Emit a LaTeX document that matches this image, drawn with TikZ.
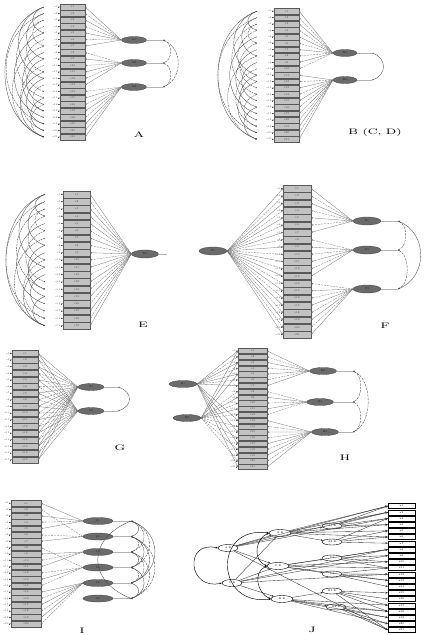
\documentclass[tikz,border=0pt]{standalone}
\usetikzlibrary{shapes.geometric,arrows.meta,positioning}
\tikzset{
  itembox/.style={draw=black!65, fill=black!24, line width=0.3pt, inner sep=0pt, font=\fontsize{2.6}{3}\selectfont, text=black!75},
  errlab/.style={inner sep=0.2pt, font=\fontsize{2.4}{3}\selectfont, text=black!70},
  errarr/.style={draw=black!70, line width=0.25pt, -{Stealth[length=1.5pt,width=1.3pt]}},
  lat/.style={ellipse, draw=black!75, fill=black!58, line width=0.3pt, inner sep=0pt, font=\fontsize{2.6}{3}\selectfont, text=black!90},
  ld1/.style={draw=black!55, line width=0.3pt, -{Stealth[length=1.9pt,width=1.5pt]}},
  ld0/.style={ld1, dash pattern=on 2pt off 1pt},
  cov/.style={draw=black!70, line width=0.35pt, {Stealth[length=1.7pt,width=1.4pt]}-{Stealth[length=1.7pt,width=1.4pt]}},
  covd/.style={cov, dash pattern=on 2.5pt off 1pt},
  ecov/.style={draw=black!75, line width=0.3pt, -{Stealth[length=1.5pt,width=1.3pt]}},
  ecovd/.style={ecov, dash pattern=on 2pt off 0.8pt},
  stub/.style={draw=black!30, line width=0.25pt},
  panlab/.style={font=\fontsize{8}{9}\selectfont, inner sep=0pt},
  jlat/.style={ellipse, draw=black, fill=white, line width=0.4pt, inner sep=0pt, font=\fontsize{2.6}{3}\selectfont},
  jbox/.style={draw=black, fill=white, line width=0.4pt, inner sep=0pt, font=\fontsize{2.6}{3}\selectfont},
  jl/.style={draw=black!80, line width=0.35pt, -{Stealth[length=2.4pt,width=2pt]}},
  jcov/.style={draw=black, line width=0.45pt, {Stealth[length=2.2pt,width=1.8pt]}-{Stealth[length=2.2pt,width=1.8pt]}},
}
% item column: prefix, N, x centre, first y, spacing, width, x of error-arc ends
\newcommand{\itemcol}[7]{%
  \foreach \i in {1,...,#2}{%
    \pgfmathsetmacro{\yy}{#4+(\i-1)*#5}%
    \pgfmathsetmacro{\hh}{#5-0.6}%
    \node[itembox, minimum width=#6pt, minimum height=\hh pt] (#1\i) at (#3,\yy) {v\i};
    \node[errlab, left=2pt of #1\i] (#1e\i) {e\i};
    \draw[errarr] (#1e\i) -- (#1\i);
    \coordinate (#1c\i) at (#7,\yy);
  }}
% loadings: latent anchor, item prefix, list, item anchor
\newcommand{\loads}[4]{%
  \foreach \i in {#3}{%
    \ifodd\i\relax\def\st{ld1}\else\def\st{ld0}\fi
    \draw[\st] (#1) -- (#2\i.#4);
  }}
% error covariances on the left: prefix, spacing, list p/q/style
\newcommand{\errarcs}[3]{%
  \foreach \p/\q/\sty in {#3}{%
    \pgfmathsetmacro{\kk}{min(0.42*(\q-\p)*#2+4,52)}%
    \pgfmathsetmacro{\kv}{0.35*\kk}%
    \draw[\sty] (#1c\p) .. controls +(-\kk,\kv) and +(-\kk,-\kv) .. (#1c\q);
  }}
\begin{document}
\begin{tikzpicture}[x=1pt,y=-1pt]
\useasboundingbox (0,0) rectangle (425,635);

% ================= A =================
\itemcol{a}{21}{72.5}{7}{6.5}{25}{44}
\errarcs{a}{6.5}{1/21/ecov, 2/19/ecovd, 1/12/ecov, 3/15/ecovd, 5/18/ecov, 7/21/ecovd, 2/9/ecov, 4/11/ecovd, 9/16/ecov, 10/20/ecovd, 12/19/ecov, 6/14/ecovd, 8/17/ecov, 11/21/ecov, 3/7/ecovd, 13/17/ecovd, 15/20/ecov, 1/5/ecov, 16/21/ecovd}
\node[lat, minimum width=25pt, minimum height=7pt] (aL1) at (134,40) {A1};
\node[lat, minimum width=25pt, minimum height=7pt] (aL2) at (134,63) {A2};
\node[lat, minimum width=25pt, minimum height=7pt] (aL3) at (134,87) {A3};
\loads{aL1.west}{a}{1,...,7}{east}
\loads{aL2.west}{a}{8,...,13}{east}
\loads{aL3.west}{a}{14,...,21}{east}
\coordinate (aR1) at (163,40); \coordinate (aR2) at (163,63); \coordinate (aR3) at (163,87);
\draw[stub] (aL1) -- (aR1); \draw[stub] (aL2) -- (aR2); \draw[stub] (aL3) -- (aR3);
\draw[covd] (aR1) .. controls +(10,3) and +(10,-3) .. (aR2);
\draw[covd] (aR2) .. controls +(10,3) and +(10,-3) .. (aR3);
\draw[covd] (aR1) .. controls +(20,8) and +(20,-8) .. (aR3);
\node[panlab] (labA) at (139,135) {\scalebox{1.6}[1]{A}};

% ================= B =================
\itemcol{b}{21}{286.5}{11.2}{6.4}{25}{257}
\errarcs{b}{6.4}{1/21/ecov, 2/20/ecovd, 1/11/ecov, 3/14/ecovd, 5/17/ecov, 8/21/ecovd, 2/8/ecov, 4/12/ecovd, 9/15/ecov, 10/19/ecovd, 12/20/ecov, 6/13/ecovd, 7/16/ecov, 11/18/ecov, 3/6/ecovd, 14/19/ecovd, 16/21/ecov, 1/4/ecov}
\node[lat, minimum width=24pt, minimum height=7pt] (bL1) at (345,53) {B1};
\node[lat, minimum width=24pt, minimum height=7pt] (bL2) at (345,80) {B2};
\loads{bL1.west}{b}{1,...,10}{east}
\loads{bL2.west}{b}{11,...,21}{east}
\coordinate (bR1) at (372,53); \coordinate (bR2) at (372,80);
\draw[stub] (bL1) -- (bR1); \draw[stub] (bL2) -- (bR2);
\draw[cov] (bR1) .. controls +(15,5) and +(15,-5) .. (bR2);
\node[panlab] (labB) at (375,132) {\scalebox{1.6}[1]{B (C, D)}};

% ================= E =================
\itemcol{e}{19}{76.5}{194.3}{7.3}{27}{45}
\errarcs{e}{7.3}{1/19/ecov, 2/18/ecovd, 1/11/ecov, 3/14/ecovd, 5/16/ecov, 7/19/ecovd, 2/8/ecov, 4/10/ecovd, 9/15/ecov, 10/18/ecovd, 12/17/ecov, 6/13/ecovd, 8/14/ecov, 11/19/ecov, 3/6/ecovd, 15/19/ecov, 1/4/ecov}
\node[lat, minimum width=27pt, minimum height=8pt] (eL1) at (145,254) {E1};
\loads{eL1.west}{e}{1,...,19}{east}
\coordinate (eR) at (167,254);
\draw[stub] (eL1) -- (eR);
\node[panlab] (labE) at (143,325) {\scalebox{1.6}[1]{E}};

% ================= F =================
\itemcol{f}{21}{297}{188.6}{7.3}{28}{270}
\node[lat, minimum width=28pt, minimum height=8pt] (fL0) at (213,251) {F0};
\node[lat, minimum width=28pt, minimum height=8pt] (fL1) at (367,221) {F1};
\node[lat, minimum width=28pt, minimum height=8pt] (fL2) at (367,250) {F2};
\node[lat, minimum width=28pt, minimum height=8pt] (fL3) at (367,289) {F3};
\loads{fL0.east}{f}{1,...,21}{west}
\loads{fL1.west}{f}{1,...,7}{east}
\loads{fL2.west}{f}{8,...,13}{east}
\loads{fL3.west}{f}{14,...,21}{east}
\coordinate (fR1) at (398,221); \coordinate (fR2) at (398,250); \coordinate (fR3) at (398,289);
\draw[stub] (fL1) -- (fR1); \draw[stub] (fL2) -- (fR2); \draw[stub] (fL3) -- (fR3);
\draw[covd] (fR1) .. controls +(10,4) and +(10,-4) .. (fR2);
\draw[covd] (fR2) .. controls +(12,5) and +(12,-5) .. (fR3);
\draw[cov] (fR1) .. controls +(30,12) and +(30,-12) .. (fR3);
\node[panlab] (labF) at (385,326) {\scalebox{1.6}[1]{F}};

% ================= G =================
\itemcol{g}{17}{25}{353.3}{6.65}{26}{0}
\node[lat, minimum width=26pt, minimum height=7pt] (gL1) at (91,387) {G1};
\node[lat, minimum width=26pt, minimum height=7pt] (gL2) at (91,411) {G2};
\loads{gL1.west}{g}{1,...,17}{east}
\loads{gL2.west}{g}{1,...,17}{east}
\coordinate (gR1) at (118,387); \coordinate (gR2) at (118,411);
\draw[stub] (gL1) -- (gR1); \draw[stub] (gL2) -- (gR2);
\draw[cov] (gR1) .. controls +(15,5) and +(15,-5) .. (gR2);
\node[panlab] (labG) at (120,448) {\scalebox{1.6}[1]{G}};

% ================= H =================
\itemcol{h}{21}{252.5}{350.9}{5.8}{29}{0}
\node[lat, minimum width=28pt, minimum height=7pt] (hL1) at (183,384) {H1};
\node[lat, minimum width=28pt, minimum height=7pt] (hL2) at (187,418) {H2};
\node[lat, minimum width=27pt, minimum height=7pt] (hL3) at (323,371) {H3};
\node[lat, minimum width=27pt, minimum height=7pt] (hL4) at (320,402) {H4};
\node[lat, minimum width=27pt, minimum height=7pt] (hL5) at (325,432) {H5};
\loads{hL1.east}{h}{1,2,3,4,5,6,7,13,15,17,19,21}{west}
\loads{hL2.east}{h}{1,3,5,8,9,10,11,12,14,16,18,20}{west}
\loads{hL3.west}{h}{1,...,7}{east}
\loads{hL4.west}{h}{8,...,12}{east}
\loads{hL5.west}{h}{13,...,21}{east}
\coordinate (hR3) at (353,371); \coordinate (hR4) at (353,402); \coordinate (hR5) at (353,432);
\draw[stub] (hL3) -- (hR3); \draw[stub] (hL4) -- (hR4); \draw[stub] (hL5) -- (hR5);
\draw[covd] (hR3) .. controls +(10,4) and +(10,-4) .. (hR4);
\draw[covd] (hR4) .. controls +(10,4) and +(10,-4) .. (hR5);
\draw[covd] (hR3) .. controls +(20,8) and +(20,-8) .. (hR5);
\node[panlab] (labH) at (345,458) {\scalebox{1.6}[1]{H}};

% ================= I =================
\itemcol{i}{20}{26}{503.2}{6.35}{30}{0}
\foreach \n/\yv in {1/521,2/536.5,3/552,4/567.5,5/583,6/598.5}{%
  \node[lat, minimum width=30pt, minimum height=7pt] (iL\n) at (98,\yv) {I\n};
  \coordinate (iR\n) at (131,\yv);
  \draw[stub] (iL\n) -- (iR\n);
}
\loads{iL1.west}{i}{1,3,4,5}{east}
\loads{iL2.west}{i}{2,6,7}{east}
\loads{iL3.west}{i}{9,10,11}{east}
\loads{iL4.west}{i}{8,12,13,14}{east}
\loads{iL5.west}{i}{15,...,20}{east}
\foreach \p/\q/\sty in {1/2/cov,2/3/covd,3/4/cov,4/5/covd,5/6/cov,1/3/covd,2/4/cov,3/5/covd,4/6/cov,1/4/covd,2/5/cov,3/6/covd,1/5/cov,2/6/covd}{%
  \pgfmathsetmacro{\kk}{(0.35*(\q-\p)*15.5+2)/0.75}%
  \draw[\sty] (iR\p) .. controls +(\kk,0.35*\kk) and +(\kk,-0.35*\kk) .. (iR\q);
}
\draw[cov] (iR1) .. controls +(-44,18) and +(-44,-18) .. (iR6);
\node[panlab] (labI) at (82,631) {\scalebox{1.6}[1]{I}};

% ================= J =================
\foreach \i in {1,...,21}{%
  \pgfmathsetmacro{\yy}{506+(\i-1)*6.2}%
  \node[jbox, minimum width=27pt, minimum height=5pt] (j\i) at (401.5,\yy) {x\i};
}
\node[jlat, minimum width=20pt, minimum height=7pt] (jL1) at (228,548) {A B};
\node[jlat, minimum width=20pt, minimum height=7pt] (jL2) at (232,583) {C B};
\node[jlat, minimum width=22pt, minimum height=7pt] (jM1) at (280,533) {A B};
\node[jlat, minimum width=22pt, minimum height=7pt] (jM2) at (278,566) {C B};
\node[jlat, minimum width=22pt, minimum height=7pt] (jM3) at (282,599) {B B};
\node[jlat, minimum width=20pt, minimum height=6pt] (jR1) at (332,526) {A1 B};
\node[jlat, minimum width=20pt, minimum height=6pt] (jR2) at (332,542) {A2 B};
\node[jlat, minimum width=20pt, minimum height=6pt] (jR3) at (332,558) {C1};
\node[jlat, minimum width=20pt, minimum height=6pt] (jR4) at (332,574) {C2};
\node[jlat, minimum width=20pt, minimum height=6pt] (jR5) at (332,591) {B1 B};
\node[jlat, minimum width=20pt, minimum height=6pt] (jR6) at (336,607) {B2 B};
\draw[jl] (jL1) -- (jM1); \draw[jl] (jL1) -- (jM2);
\draw[jl] (jL2) -- (jM1); \draw[jl] (jL2) -- (jM2); \draw[jl] (jL2) -- (jM3);
\draw[jl] (jM1) -- (jR1); \draw[jl] (jM1) -- (jR2);
\draw[jl] (jM2) -- (jR3); \draw[jl] (jM2) -- (jR4);
\draw[jl] (jM3) -- (jR5); \draw[jl] (jM3) -- (jR6);
\foreach \i in {1,2,3,21} \draw[jl] (jL1) -- (j\i.west);
\foreach \i in {8,9,12} \draw[jl] (jL2) -- (j\i.west);
\foreach \i in {1,2,4,5,6} \draw[jl] (jM1) -- (j\i.west);
\foreach \i in {8,10,11,13} \draw[jl] (jM2) -- (j\i.west);
\foreach \i in {17,18,19,20} \draw[jl] (jM3) -- (j\i.west);
\foreach \i in {1,2,3,4} \draw[jl] (jR1) -- (j\i.west);
\foreach \i in {3,5,6,7} \draw[jl] (jR2) -- (j\i.west);
\foreach \i in {8,9,10,11} \draw[jl] (jR3) -- (j\i.west);
\foreach \i in {11,12,13,14} \draw[jl] (jR4) -- (j\i.west);
\foreach \i in {15,16,17,18,21} \draw[jl] (jR5) -- (j\i.west);
\foreach \i in {18,19,20,21} \draw[jl] (jR6) -- (j\i.west);
\draw[jcov] (jL1.west) .. controls +(-34,-8) and +(-34,8) .. (jL2.west);
\draw[jcov] (jM1.west) .. controls +(-56,-8) and +(-56,8) .. (jM3.west);
\draw[jcov] (jM1.west) .. controls +(-14,6) and +(-14,-6) .. (jM2.west);
\draw[jcov] (jM2.west) .. controls +(-14,6) and +(-14,-6) .. (jM3.west);
\node[panlab] (labJ) at (312,630) {\scalebox{1.6}[1]{J}};
\end{tikzpicture}
\end{document}
